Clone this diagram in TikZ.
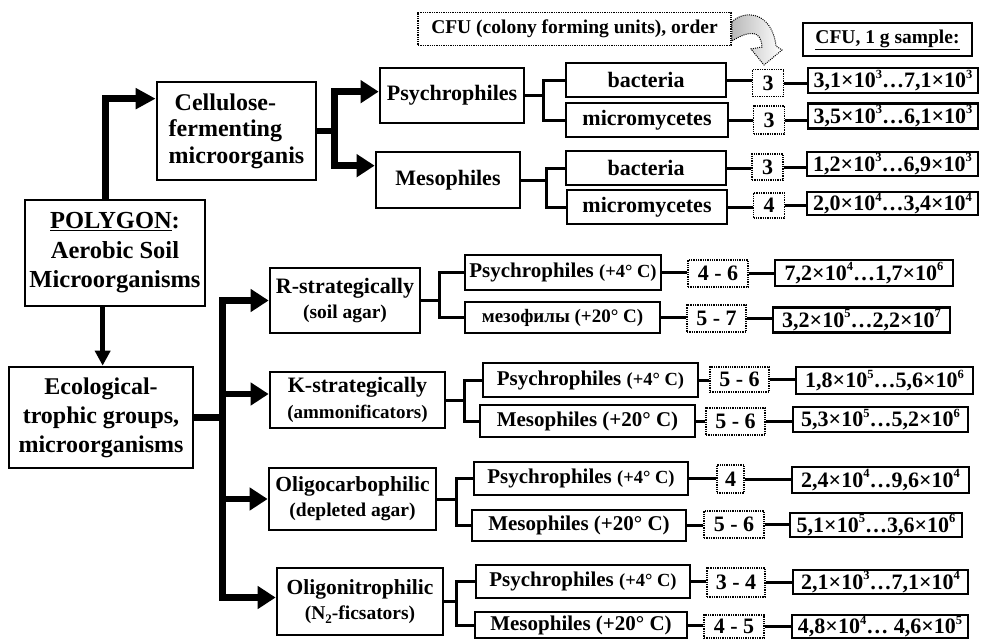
\documentclass[tikz,border=0pt]{standalone}
\usepackage{fontspec}
\setmainfont{Liberation Serif}
\usetikzlibrary{arrows.meta,calc}

% raised exponent and a range of colony counts
\newcommand{\pw}[1]{\raisebox{0.42em}{\fontsize{12.5}{12.5}\selectfont #1}}
\newcommand{\rng}[4]{#1×10\pw{#2}…#3×10\pw{#4}}
\newcommand{\subtwo}{\raisebox{-0.22em}{\fontsize{13}{13}\selectfont 2}}

\begin{document}
\begin{tikzpicture}[x=1pt,y=-1pt,
  tbox/.style={draw, line width=2.7pt, inner sep=0pt, align=center,
               font=\bfseries\fontsize{22}{26}\selectfont},
  dbox/.style={draw, line width=1.8pt, dash pattern=on 1.3pt off 1pt,
               inner sep=0pt, align=center,
               font=\bfseries\fontsize{22}{26}\selectfont},
  valbox/.style={tbox, font=\bfseries\fontsize{22}{25}\selectfont},
  subbox/.style={tbox, font=\bfseries\fontsize{21}{24}\selectfont},
  grpbox/.style={tbox, font=\bfseries\fontsize{22}{25.5}\selectfont},
  sz/.style 2 args={minimum width=#1pt, minimum height=#2pt},
  thinlink/.style={line width=3pt},
  heavybar/.style={line width=6.5pt},
  heavyfeed/.style={line width=6.5pt, -{Triangle[length=18pt,width=22pt]}},
]
\useasboundingbox[fill=white] (0,0) rectangle (981,640);

% ---------- root and the two main branches ----------
\node[tbox, sz={180}{106}, font=\bfseries\fontsize{24.5}{29.5}\selectfont]
  (poly) at (115,253) {\underline{POLYGON}:\\Aerobic Soil\\Microorganisms};
\node[tbox, sz={159}{98}, align=left, font=\bfseries\fontsize{24}{26.5}\selectfont]
  (cell) at (236.5,131) {\hspace{6pt}Cellulose-\\fermenting\\microorganis};
\node[tbox, sz={184}{101}, font=\bfseries\fontsize{24}{29}\selectfont]
  (eco) at (101,417.5) {Ecological-\\trophic groups,\\microorganisms};

% ---------- cellulose-fermenting part ----------
\node[tbox, sz={144}{55}] (psy) at (452,95.5) {Psychrophiles};
\node[tbox, sz={144}{56}] (mes) at (448,180) {Mesophiles};
\node[tbox, sz={160}{34}] (bac1) at (646,80) {bacteria};
\node[tbox, sz={162}{34}] (mic1) at (647,120) {micromycetes};
\node[tbox, sz={160}{34}] (bac2) at (646,168) {bacteria};
\node[tbox, sz={160}{34}] (mic2) at (647,207) {micromycetes};

\node[dbox, sz={31}{27}] (n1a) at (768,83) {3};
\node[dbox, sz={31}{28}] (n1b) at (769,120) {3};
\node[dbox, sz={31}{26}] (n2a) at (767.5,167) {3};
\node[dbox, sz={31}{25}] (n2b) at (769,205.5) {4};

\node[valbox, sz={170}{25}] (v1a) at (893,80.5) {\rng{3,1}{3}{7,1}{3}};
\node[valbox, sz={170}{25}] (v1b) at (893,116) {\rng{3,5}{3}{6,1}{3}};
\node[valbox, sz={171}{24}] (v2a) at (892.5,164) {\rng{1,2}{3}{6,9}{3}};
\node[valbox, sz={171}{23}] (v2b) at (892.5,203.5) {\rng{2,0}{4}{3,4}{4}};

% legend boxes
\node[dbox, sz={313}{33}, line width=1.6pt, font=\bfseries\fontsize{19.5}{22}\selectfont]
  (cfu) at (574.5,29) {CFU (colony forming units), order};
\node[tbox, sz={169}{33}, font=\bfseries\fontsize{19.5}{22}\selectfont]
  (cfus) at (887.5,39.5) {\underline{CFU, 1 g sample:}};

% curved pointer from the legend to the order boxes
\draw[line width=1pt, dash pattern=on 1pt off 1.1pt, left color=gray!55, right color=white]
  (cfu.east |- 0,22) .. controls (745,9) and (772,12) .. (776,46)
  -- (782,50) -- (764,65) -- (751,49) -- (762,47)
  .. controls (761,30) and (750,30) .. (cfu.east |- 0,41) -- cycle;

% ---------- ecological-trophic part ----------
\node[grpbox, sz={150}{65}] (R) at (345,300.5)
  {R-strategically\\{\fontsize{19.5}{22}\selectfont (soil agar)}};
\node[grpbox, sz={175}{56}] (K) at (357.5,400)
  {K-strategically\\{\fontsize{19}{22}\selectfont (ammonificators)}};
\node[grpbox, sz={167}{62}, font=\bfseries\fontsize{21.5}{25}\selectfont] (OC) at (352.5,499)
  {Oligocarbophilic\\{\fontsize{19.5}{22}\selectfont (depleted agar)}};
\node[grpbox, sz={166}{67}, font=\bfseries\fontsize{21.5}{25}\selectfont] (ON) at (360,601.5)
  {Oligonitrophilic\\{\fontsize{19.5}{22}\selectfont (N\subtwo-ficsators)}};

\node[subbox, sz={196}{35}] (R1) at (563,272.5)
  {Psychrophiles {\fontsize{18.5}{20}\selectfont (+4° C)}};
\node[subbox, sz={195}{31}, font=\bfseries\fontsize{19}{22}\selectfont] (R2) at (562.5,317.5)
  {мезофилы (+20° C)};
\node[subbox, sz={215}{34}] (K1) at (590.5,380)
  {Psychrophiles {\fontsize{18.5}{20}\selectfont (+4° C)}};
\node[subbox, sz={215}{32}] (K2) at (587.5,421) {Mesophiles (+20° C)};
\node[subbox, sz={214}{33}] (O1) at (581,478.5)
  {Psychrophiles {\fontsize{18.5}{20}\selectfont (+4° C)}};
\node[subbox, sz={214}{31}] (O2) at (579,525.5) {Mesophiles (+20° C)};
\node[subbox, sz={214}{33}] (N1) at (583,581.5)
  {Psychrophiles {\fontsize{18.5}{20}\selectfont (+4° C)}};
\node[subbox, sz={212}{26}] (N2) at (581,625) {Mesophiles (+20° C)};

\node[dbox, sz={60}{27}] (R1n) at (718,273.5) {4 - 6};
\node[dbox, sz={59}{27}] (R2n) at (716.5,318.5) {5 - 7};
\node[dbox, sz={59}{25}] (K1n) at (739.5,379.5) {5 - 6};
\node[dbox, sz={59}{27}] (K2n) at (735.5,421.5) {5 - 6};
\node[dbox, sz={27}{28}] (O1n) at (730.5,479) {4};
\node[dbox, sz={60}{27}] (O2n) at (734,524.5) {5 - 6};
\node[dbox, sz={58}{29}] (N1n) at (736,582.5) {3 - 4};
\node[dbox, sz={60}{23}] (N2n) at (734,626.5) {4 - 5};

\node[valbox, sz={178}{26}] (R1v) at (864,273) {\rng{7,2}{4}{1,7}{6}};
\node[valbox, sz={177}{25}] (R2v) at (861.5,320) {\rng{3,2}{5}{2,2}{7}};
\node[valbox, sz={177}{27}] (K1v) at (884.5,380.5) {\rng{1,8}{5}{5,6}{6}};
\node[valbox, sz={175}{25}] (K2v) at (880.5,419.5) {\rng{5,3}{5}{5,2}{6}};
\node[valbox, sz={177}{26}] (O1v) at (880.5,480) {\rng{2,4}{4}{9,6}{4}};
\node[valbox, sz={172}{24}] (O2v) at (876,525) {\rng{5,1}{5}{3,6}{6}};
\node[valbox, sz={175}{24}] (N1v) at (880.5,582) {\rng{2,1}{3}{7,1}{4}};
\node[valbox, sz={176}{23}] (N2v) at (880,626.5) {4,8×10\pw{4}… 4,6×10\pw{5}};

% ---------- heavy arrows ----------
\coordinate (pu) at ($(poly.north west)+(82,0)$);
\coordinate (cellin) at ($(cell.north west)+(0,18)$);
\draw[heavyfeed, -{Triangle[length=20pt,width=20pt]}] (pu) |- (cellin);

\draw[heavybar] (cell.east) -- ++(17,0) coordinate (cj);
\coordinate (psyin) at ($(psy.north west)+(0,25)$);
\coordinate (mesin) at ($(mes.north west)+(0,15)$);
\draw[heavyfeed] (cj) |- (psyin);
\draw[heavyfeed] (cj) |- (mesin);

\coordinate (pd) at ($(poly.south west)+(79,0)$);
\coordinate (ecoin) at ($(eco.north west)+(95,0)$);
\draw[line width=5pt, -{Triangle[length=15pt,width=15pt]}] (pd) -- (ecoin);

\draw[heavybar] (eco.east) -- ++(28,0) coordinate (ej);
\coordinate (Kin) at ($(K.west)+(0,-6)$);
\coordinate (ONin) at ($(ON.west)+(0,-4)$);
\draw[heavyfeed] (ej) |- (R.west);
\draw[heavyfeed] (ej) |- (Kin);
\draw[heavyfeed] (ej) |- (OC.west);
\draw[heavyfeed] (ej) |- (ONin);

% ---------- thin branches ----------
\draw[thinlink] (psy.east) -- ++(18,0) coordinate (pj) |- (bac1.west);
\draw[thinlink] (pj) |- (mic1.west);
\draw[thinlink] (mes.east) -- ++(25,0) coordinate (mj) |- (bac2.west);
\draw[thinlink] (mj) |- (mic2.west);

\draw[thinlink] (R.east) -- ++(18,0) coordinate (rj) |- (R1.west);
\draw[thinlink] (rj) |- (R2.west);
\draw[thinlink] (K.east) -- ++(18,0) coordinate (kj) |- (K1.west);
\draw[thinlink] (kj) |- (K2.west);
\draw[thinlink] (OC.east) -- ++(19,0) coordinate (oj) |- (O1.west);
\draw[thinlink] (oj) |- (O2.west);
\draw[thinlink] (ON.east) -- ++(12,0) coordinate (nj) |- (N1.west);
\draw[thinlink] (nj) |- (N2.west);

% ---------- links to order and count boxes ----------
\foreach \a/\b/\c in {bac1/n1a/v1a, mic1/n1b/v1b, bac2/n2a/v2a, mic2/n2b/v2b,
                      R1/R1n/R1v, R2/R2n/R2v, K1/K1n/K1v, K2/K2n/K2v,
                      O1/O1n/O1v, O2/O2n/O2v, N1/N1n/N1v, N2/N2n/N2v} {
  \draw[thinlink] (\a.east) -- (\a.east -| \b.west);
  \draw[thinlink] (\b.east) -- (\b.east -| \c.west);
}
\end{tikzpicture}
\end{document}
